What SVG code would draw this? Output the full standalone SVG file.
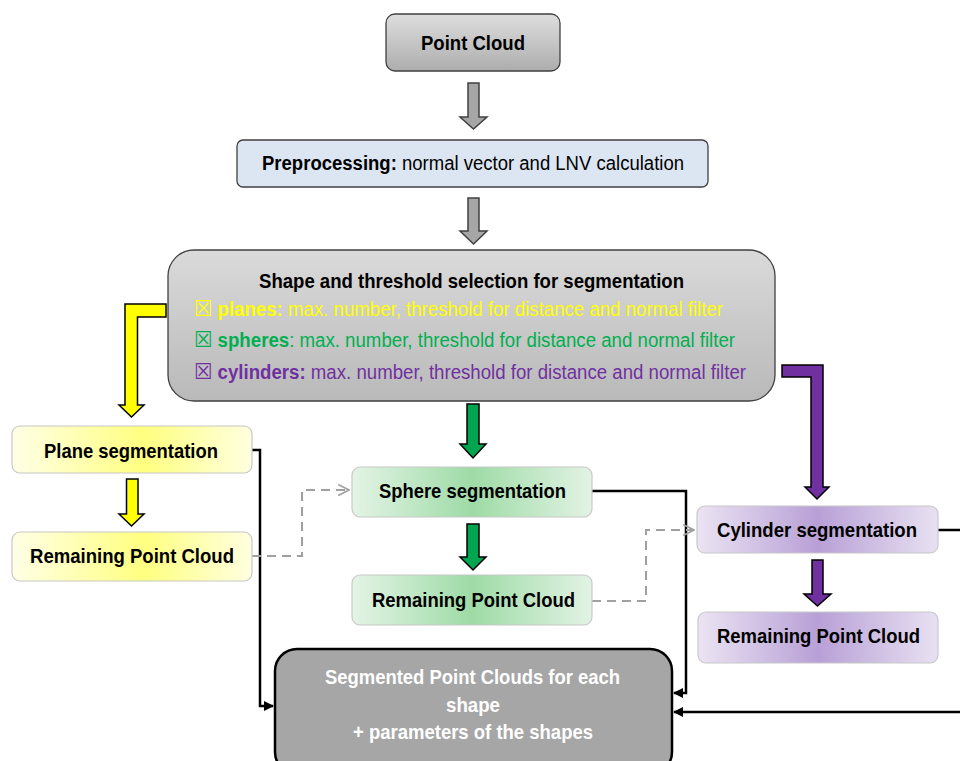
<svg xmlns="http://www.w3.org/2000/svg" width="960" height="761" viewBox="0 0 960 761">
<defs>
<linearGradient id="gGray" x1="0" y1="0" x2="0" y2="1"><stop offset="0" stop-color="#dedede"/><stop offset="1" stop-color="#adadad"/></linearGradient>
<linearGradient id="gShape" x1="0" y1="0" x2="0" y2="1"><stop offset="0" stop-color="#dadada"/><stop offset="1" stop-color="#b9b9b9"/></linearGradient>
<linearGradient id="gY" x1="0" y1="0" x2="1" y2="0"><stop offset="0" stop-color="#ffffe6"/><stop offset="0.55" stop-color="#ffff80"/><stop offset="1" stop-color="#ffffe0"/></linearGradient>
<linearGradient id="gG" x1="0" y1="0" x2="1" y2="0"><stop offset="0" stop-color="#e4f4e6"/><stop offset="0.5" stop-color="#9edba6"/><stop offset="1" stop-color="#e2f3e4"/></linearGradient>
<linearGradient id="gP" x1="0" y1="0" x2="1" y2="0"><stop offset="0" stop-color="#ebe4f3"/><stop offset="0.5" stop-color="#b8a0d6"/><stop offset="1" stop-color="#e8e1f2"/></linearGradient>
<marker id="ah" viewBox="0 0 10 10" refX="9" refY="5" markerWidth="4" markerHeight="4" orient="auto" markerUnits="strokeWidth"><path d="M0,0 L10,5 L0,10 z" fill="#000"/></marker>
<marker id="oh" viewBox="0 0 12 12" refX="11" refY="6" markerWidth="6.5" markerHeight="6.5" orient="auto" markerUnits="strokeWidth"><path d="M1,1 L11,6 L1,11" fill="none" stroke="#a0a0a0" stroke-width="1.6"/></marker>
<style>
text{font-family:"Liberation Sans",Arial,sans-serif;}
.t{font-size:21px;font-weight:bold;fill:#000;text-anchor:middle;}
.box{font-family:"DejaVu Sans",sans-serif;font-size:22px;font-weight:normal;}
.seg{stroke:#c8c8c8;stroke-width:1.2;}
.conn{fill:none;stroke:#000;stroke-width:2.5;marker-end:url(#ah);}
.dash{fill:none;stroke:#a0a0a0;stroke-width:2;stroke-dasharray:9 6;marker-end:url(#oh);}
.arr{stroke-width:1.5;stroke-linejoin:miter;}
</style>
</defs>

<g id="connectors">
<path class="conn" d="M252,450 H260 V706 H273"/>
<path class="conn" d="M592,491 H686 V693 H674"/>
<path class="conn" d="M938,530 H964 V712 H674"/>
<path class="dash" d="M252,556 H302 V490 H349"/>
<path class="dash" d="M592,601 H646 V530 H694"/>
</g>

<g id="arrows">
<polygon class="arr" fill="#a6a6a6" stroke="#404040" points="468,83 479,83 479,117 487,117 473.5,129 460,117 468,117"/>
<polygon class="arr" fill="#a6a6a6" stroke="#404040" points="468,198 479,198 479,231 487,231 473.5,244 460,231 468,231"/>
<polygon class="arr" fill="#ffff00" stroke="#000" points="166,304 125,304 125,405 119,405 131.5,417 144,405 137.5,405 137.5,317 166,317"/>
<polygon class="arr" fill="#ffff00" stroke="#000" points="126.5,479 138,479 138,514 144,514 131.5,526 119,514 126.5,514"/>
<polygon class="arr" fill="#00a550" stroke="#000" points="467,404 479,404 479,444 486,444 473,458 460,444 467,444"/>
<polygon class="arr" fill="#00a550" stroke="#000" points="467,524 479,524 479,557 486,557 473,570 460,557 467,557"/>
<polygon class="arr" fill="#7030a0" stroke="#000" points="782,365 823,365 823,487 829,487 817,499 805,487 811,487 811,377 782,377"/>
<polygon class="arr" fill="#7030a0" stroke="#000" points="812,560 823,560 823,594 831,594 817.5,606 804,594 812,594"/>
</g>

<g id="point-cloud">
<rect x="386" y="14" width="174" height="57" rx="9" fill="url(#gGray)" stroke="#404040" stroke-width="1.3"/>
<text class="t" x="473" y="50" textLength="104" lengthAdjust="spacingAndGlyphs">Point Cloud</text>
</g>

<g id="preprocessing">
<rect x="237" y="140" width="471" height="47" rx="6" fill="#dce6f2" stroke="#404040" stroke-width="1.3"/>
<text x="473" y="170" style="font-size:20px;text-anchor:middle" textLength="422" lengthAdjust="spacingAndGlyphs"><tspan font-weight="bold">Preprocessing:</tspan> normal vector and LNV calculation</text>
</g>

<g id="shape-selection">
<rect x="168" y="250" width="607" height="151" rx="26" fill="url(#gShape)" stroke="#404040" stroke-width="1.3"/>
<text class="t" x="471.5" y="288" textLength="425" lengthAdjust="spacingAndGlyphs">Shape and threshold selection for segmentation</text>
<text x="194" y="316" style="font-size:20px;fill:#ffff00" textLength="529" lengthAdjust="spacingAndGlyphs"><tspan class="box">☒</tspan> <tspan font-weight="bold">planes:</tspan> max. number, threshold for distance and normal filter</text>
<text x="194" y="347" style="font-size:20px;fill:#00b050" textLength="541" lengthAdjust="spacingAndGlyphs"><tspan class="box">☒</tspan> <tspan font-weight="bold">spheres</tspan>: max. number, threshold for distance and normal filter</text>
<text x="194" y="379" style="font-size:20px;fill:#7030a0" textLength="552" lengthAdjust="spacingAndGlyphs"><tspan class="box">☒</tspan> <tspan font-weight="bold">cylinders:</tspan> max. number, threshold for distance and normal filter</text>
</g>

<g id="plane-seg">
<rect class="seg" x="12" y="426" width="240" height="47" rx="8" fill="url(#gY)"/>
<text class="t" x="131" y="458" textLength="174" lengthAdjust="spacingAndGlyphs">Plane segmentation</text>
</g>

<g id="plane-remaining">
<rect class="seg" x="12" y="532" width="240" height="49" rx="8" fill="url(#gY)"/>
<text class="t" x="132" y="563" textLength="204" lengthAdjust="spacingAndGlyphs">Remaining Point Cloud</text>
</g>

<g id="sphere-seg">
<rect class="seg" x="352" y="467" width="240" height="50" rx="8" fill="url(#gG)"/>
<text class="t" x="472.5" y="498" textLength="187" lengthAdjust="spacingAndGlyphs">Sphere segmentation</text>
</g>

<g id="sphere-remaining">
<rect class="seg" x="352" y="575" width="240" height="50" rx="8" fill="url(#gG)"/>
<text class="t" x="473.5" y="607" textLength="203" lengthAdjust="spacingAndGlyphs">Remaining Point Cloud</text>
</g>

<g id="cylinder-seg">
<rect class="seg" x="697" y="506" width="241" height="47" rx="8" fill="url(#gP)"/>
<text class="t" x="817" y="537" textLength="200" lengthAdjust="spacingAndGlyphs">Cylinder segmentation</text>
</g>

<g id="cylinder-remaining">
<rect class="seg" x="698" y="612" width="240" height="51" rx="8" fill="url(#gP)"/>
<text class="t" x="818.5" y="643" textLength="203" lengthAdjust="spacingAndGlyphs">Remaining Point Cloud</text>
</g>

<g id="segmented">
<rect x="275" y="649" width="397" height="125" rx="22" fill="#a6a6a6" stroke="#000" stroke-width="2.5"/>
<text class="t" x="472.5" y="684" style="fill:#fff" textLength="295" lengthAdjust="spacingAndGlyphs">Segmented Point Clouds for each</text>
<text class="t" x="473" y="712" style="fill:#fff" textLength="54" lengthAdjust="spacingAndGlyphs">shape</text>
<text class="t" x="473" y="739" style="fill:#fff" textLength="240" lengthAdjust="spacingAndGlyphs">+ parameters of the shapes</text>
</g>
</svg>
